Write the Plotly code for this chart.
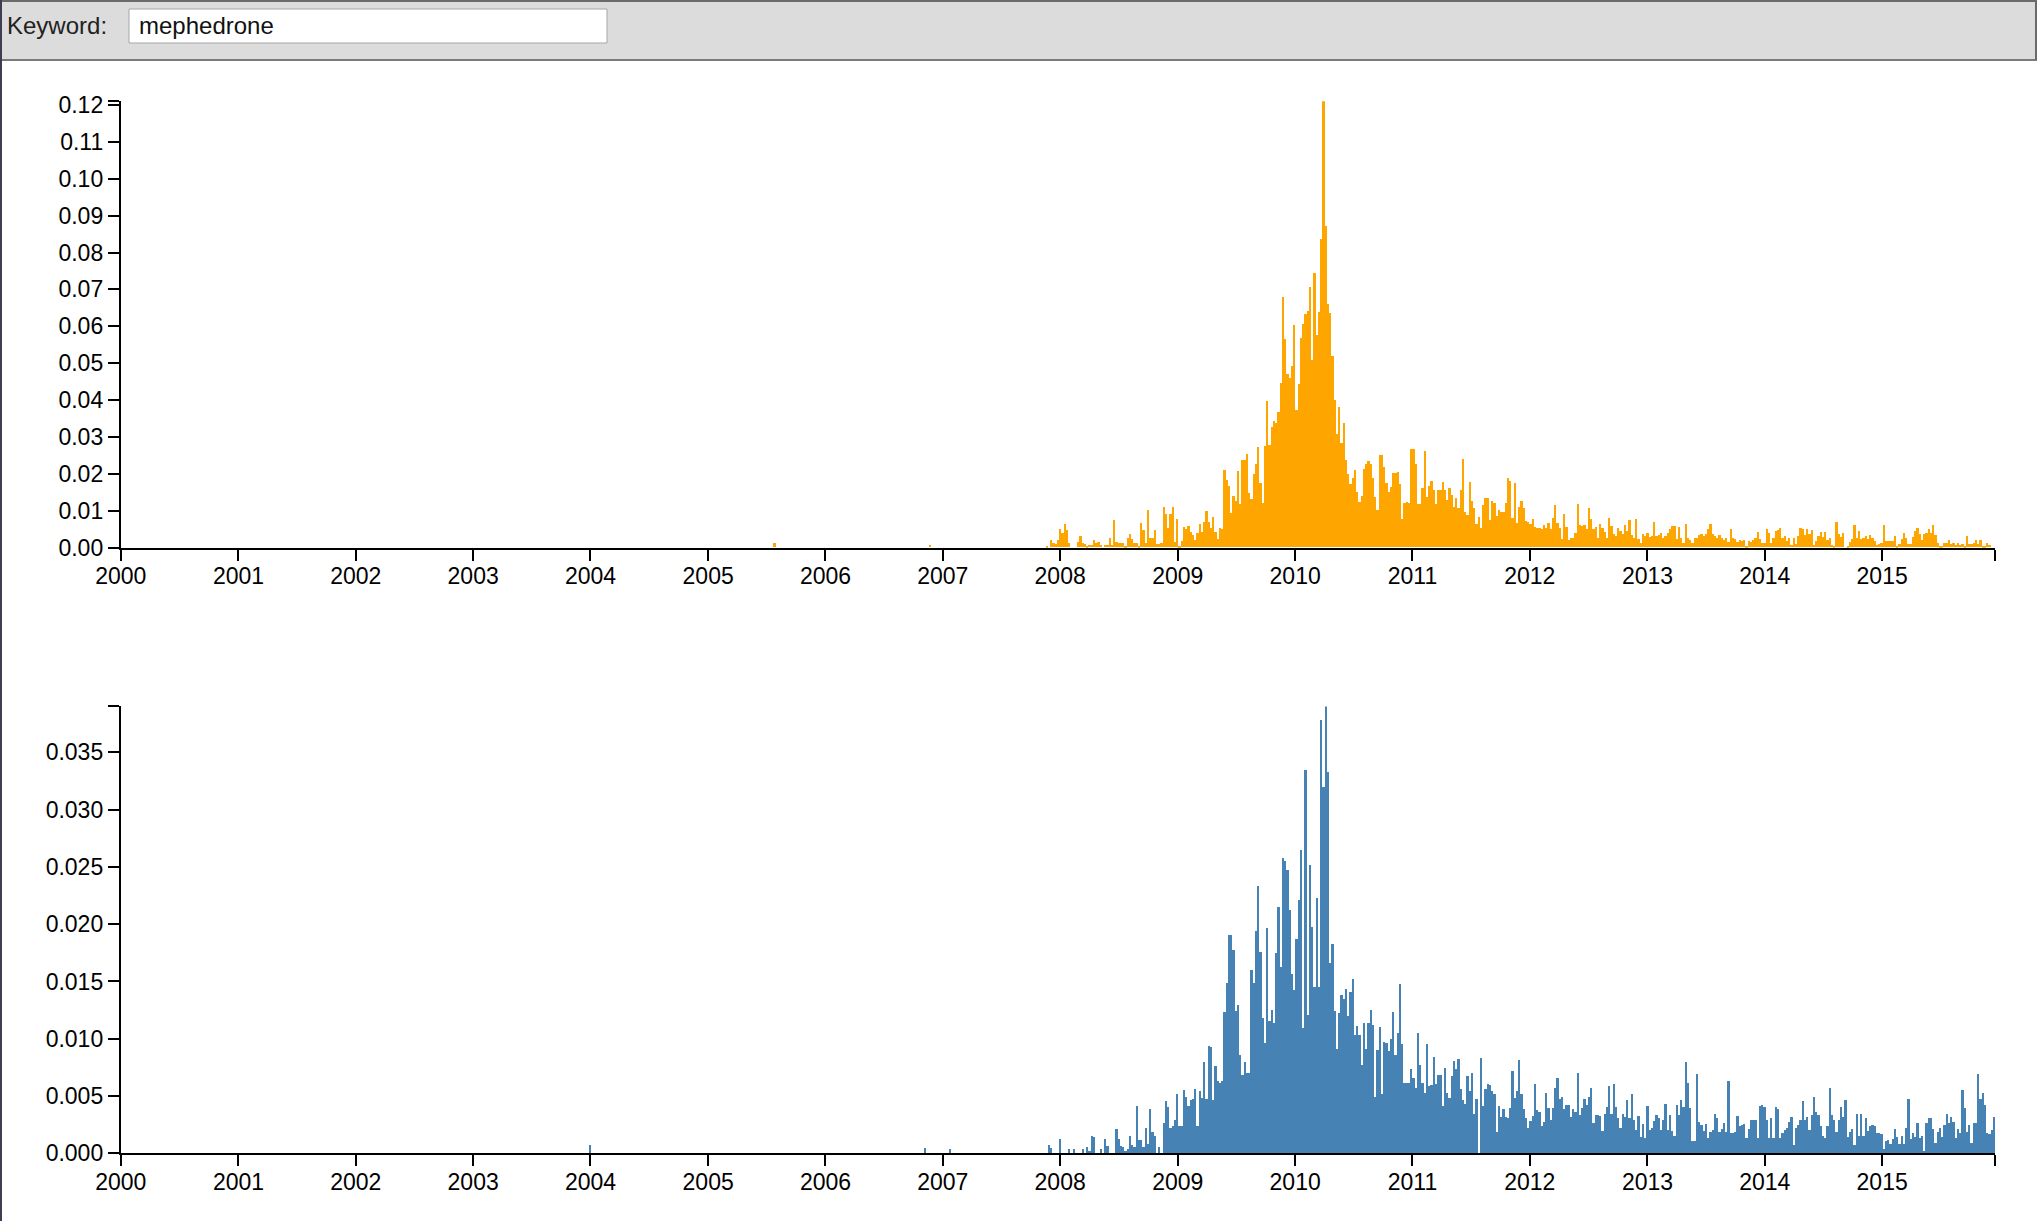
import pandas as pd
import plotly.graph_objects as go

# ---------------- data ----------------
KEYWORD = "mephedrone"
WEEK_START = "2007-11-09"   # first weekly bin of the series below

# top series (orange), weekly values
top_values = [
    0, .0005, 0, .0019, .0012, .0009, .002,
    .005, .004, .0063, .0048, .0012, 0, 0, 0, .0016, .0032,
    .0013, .0009, .0003, .0006, .0006, .002, .0012, .0015, .0006, 0,
    .0008, .0008, .0027, .0007, .0075, .0016, .0012, .0012, .0012, .0003,
    .0027, .0037, .0022, .0012, .0012, .0003, .0066, .0048, .0012, .0102,
    .0025, .0025, .0048, .0009, .001, .0012, .0109, .0091, .0054, .0091,
    .011, .0016, .0076, .0003, .0018, .0055, .005, .0058, .0043, .0034,
    .002, .0039, .0063, .0043, .007, .01, .0068, .0052, .0082, .0042,
    .0024, .0052, .005, .021, .0182, .0166, .0094, .0139, .0127, .0207,
    .0118, .0236, .0236, .0253, .0147, .0132, .02, .0226, .0271, .0175,
    .012, .0274, .0396, .0277, .0326, .0343, .0337, .0366, .0447, .068,
    .0564, .0469, .0459, .0493, .0603, .0373, .0443, .0567, .0607, .0632,
    .0641, .0706, .0508, .0743, .0576, .0639, .0837, .121, .0872, .0659,
    .0636, .0518, .0401, .0308, .038, .0283, .0337, .0236, .0199, .0171,
    .0189, .0211, .015, .0122, .0139, .0214, .0225, .0234, .0226, .0187,
    .0138, .0102, .025, .0252, .0218, .0175, .0151, .0163, .0202, .0202,
    .0205, .0172, .0077, .012, .0123, .0121, .0268, .0267, .0226, .0118,
    .0118, .016, .0261, .0136, .0166, .0181, .0157, .0118, .0157, .0156,
    .0178, .0155, .013, .0162, .0142, .011, .0135, .0108, .0156, .0241,
    .0096, .0087, .0177, .0126, .0108, .0063, .0083, .0052, .0115, .0133,
    .0133, .0074, .0126, .0121, .0086, .0102, .0097, .0097, .0121, .0189,
    .018, .0079, .0174, .0066, .011, .0126, .0108, .0072, .007, .0063,
    .0076, .0056, .0054, .0054, .0049, .006, .0054, .0067, .0049, .0081,
    .0114, .0067, .0054, .0024, .009, .0056, .002, .0027, .0027, .004,
    .0117,
    .0061, .0058, .0062, .0049, .0106, .0076, .0051, .0056, .0027, .0063,
    .0054, .0041, .0027, .0081, .0058, .0036, .0031, .0054, .0044, .0036,
    .0061, .0045, .0074, .0033, .0027, .0076, .0022, .0013, .0036, .0031,
    .004, .0028, .0031, .007, .0031, .0035,
    .004, .0025, .0031, .004, .0049, .0058, .0058, .0022, .0056, .0027,
    .0013, .0063, .0025, .0019, .0013, .0027, .0027, .0034, .0036, .0031,
    .0036, .0049, .0063, .0036, .003, .0027, .0034, .0025, .002, .0027,
    .0016, .0049, .0025, .0022, .0015, .002, .0018, .002, .0004, .0018,
    .0016, .002, .0027, .0043, .0024, .0011, .0013, .0051, .004, .0013,
    .0025, .0045, .0047, .0052, .0026, .0031, .0018, .0027, .0007, .0027,
    .0009, .0031, .0054, .0049, .0035, .0049, .0036, .0048, .0007, .0018,
    .0031, .0042, .0029, .0043, .0021, .0027, .0007, .0002, .0069, .0036,
    .0029, .004, 0, .0004, .0016, .0022, .0061, .0027, .0045, .0022,
    .0027, .0031, .0024, .0034, .0025, .0018, .0007, .0009, .0012, .006,
    .0018, .0018, .0018, .0018, .0031, .0004, .0009, .0022, .0038, .0027,
    .0009, .0009, .0029, .0045, .0054, .0036, .002, .0036, .004, .0049,
    .004, .0061, .0034, .0013, .0004, .0002, .0011, .0012, .002, .0009,
    .0011, .0007, .0013, .0006, .0009, .0002, .0031, .0009, .0009, .0011,
    .0021, .0009, .002, .0004, .0003, .0012, .0008,
]

# bottom series (steelblue), weekly values
bottom_values = [
    0, 0, .0007, .0004, 0, 0, 0,
    .0012, 0, 0, 0, .0003, 0, .0003, 0, 0, 0,
    .0003, 0, .0005, .0001, .0015, .0014, 0, 0, .0003, 0,
    .0012, .0006, 0, 0, 0, .0021, .0012, .0006, .0005, .0001,
    .0003, .0015, .0007, .0005, .0041, .0011, .0011, .0005, .0022, .0008,
    .0038, .0018, .0015, 0, .0005, 0, .0026, .0045, .004, .0022,
    .0023, .0029, .0051, .0023, .0023, .0055, .0049, .0041, .0046, .0047,
    .0056, .0023, .0054, .0048, .0079, .0047, .0093, .0092, .0046, .0076,
    .0063, .0061, .0063, .0123, .0148, .019, .019, .0177, .0124, .0129,
    .0085, .0068, .0079, .007, .007, .016, .0148, .0194, .0233, .0175,
    .0118, .0096, .0196, .0115, .0125, .0113, .0174, .0215, .0162, .0257,
    .0255, .0247, .0212, .0156, .0142, .0187, .0221, .0264, .0109, .0334,
    .012, .0251, .0197, .0145, .0222, .0145, .0378, .0319, .039, .0332,
    .0166, .0182, .0124, .0091, .0122, .0138, .0134, .0143, .0119, .014,
    .0152, .0103, .0111, .0103, .0077, .0113, .0091, .0113, .0125, .0112,
    .0049, .009, .011, .0051, .0097, .0096, .0089, .0099, .0123, .0085,
    .0105, .0147, .0095, .0061, .0061, .0061, .0073, .0065, .0057, .0105,
    .0077, .0061, .0052, .0095, .0058, .0059, .0084, .006, .0068, .0068,
    .0041,
    .0074, .0052, .0048, .0067, .008, .0073, .0082, .0056, .0046, .0043,
    .0067, .0054, .007, .0034, .0047, 0, .0083, .0041, .0056, .006,
    .0059, .0054, .0051, .0018, .0041, .0031, .0038, .0031, .003, .0039,
    .0071, .0048, .0054, .0081, .0051, .0038, .003, .0022, .0028, .0032,
    .006, .0037, .0036, .0023, .0027, .0052, .0039, .0029, .0039, .0057,
    .0065, .0047, .0049, .0038, .0042, .0042, .0031, .0038, .0036, .007,
    .0033, .0039,
    .0047, .0042, .0049, .0057, .0026, .0033, .0033, .0032, .0019, .0034,
    .004, .0058, .0034, .006, .004, .003, .0022, .0034, .0031, .0046,
    .003, .0051, .0029, .002, .0032, .0014, .0025, .0013, .0041, .002,
    .0022, .0028, .0033, .003, .002, .0029, .0043, .002, .0033, .0019,
    .0015, .0042, .0033, .0046, .004, .0079, .0061, .0039, .001, .001,
    .0069, .0027, .0024, .0019, .0025, .0013, .0018, .002, .0034, .003,
    .0018, .0021, .0026, .0018, .0063, .0017, .0017, .0018, .0032, .0023,
    .0024, .0025, .0013, .0021, .0029, .0029, .0029, .0013, .0041, .0042,
    .004, .0029, .0013, .003, .0013, .004, .0038, .0013, .0017, .002,
    .0022, .0027, .0031, .0007, .0022, .0024, .0029, .0045, .0029, .0031,
    .002, .0033, .0049, .0036, .0033, .0023, .0015, .0013, .0023, .0057,
    .0033, .0029, .0018, .0029, .004, .0031, .0046, .0014, .0018, .0021,
    .0007, .0034, .0015, .0034, .0015, .003, .0019, .0023, .0024, .0023,
    .0017, .0017, .0016, .0003, .001, .0011, .0008, .0012, .0021, .0014,
    .0008, .0015, .0008, .0022, .0047, .0012, .0017, .0014, .0026, .0013,
    .0015, .0002, .0026, .003, .003, .0021, .0009, .0018, .0022, .0014,
    .0024, .0034, .0026, .0031, .0027, .0013, .0021, .0017, .0055, .0039,
    .0018, .0024, .0009, .0026, .0026, .0069, .0047, .0052, .0042, .0017,
    .0016, .002, .0031,
]

# isolated early weeks
top_early_dates = ["2005-07-22", "2006-11-17"]
top_early_values = [0.0011, 0.0008]
bottom_early_dates = ["2003-12-26", "2006-11-03", "2007-01-19"]
bottom_early_values = [0.0007, 0.0004, 0.0003]

year_ticks = [str(y) for y in range(2000, 2016)]
x_start, x_end = "2000-01-01", "2015-12-19"
top_yticks = [0.00, 0.01, 0.02, 0.03, 0.04, 0.05, 0.06, 0.07, 0.08, 0.09, 0.10, 0.11, 0.12]
bottom_yticks = [0.000, 0.005, 0.010, 0.015, 0.020, 0.025, 0.030, 0.035]

# ---------------- figure ----------------
W, H = 2037, 1221
WEEK_MS = 7 * 24 * 3600 * 1000
ORANGE = "#FFA500"
BLUE = "#4682B4"
FONT = "Liberation Sans, Arial, Helvetica, sans-serif"

top_dates = pd.date_range(WEEK_START, periods=len(top_values), freq="7D")
bottom_dates = pd.date_range(WEEK_START, periods=len(bottom_values), freq="7D")

fig = go.Figure()


def add_bars(x, y, color, xa, ya):
    fig.add_trace(go.Bar(
        x=list(x), y=y, width=WEEK_MS, offset=0,
        marker=dict(color=color, line=dict(width=0)),
        xaxis=xa, yaxis=ya, hoverinfo="x+y"))


add_bars(pd.to_datetime(top_early_dates), top_early_values, ORANGE, "x", "y")
add_bars(top_dates, top_values, ORANGE, "x", "y")
add_bars(pd.to_datetime(bottom_early_dates), bottom_early_values, BLUE, "x2", "y2")
add_bars(bottom_dates, bottom_values, BLUE, "x2", "y2")


def py(px):
    return 1 - px / H


x_dom = [120.8 / W, 1995.3 / W]
top_max = max(top_values)
bot_max = max(bottom_values)

xtickvals = [f"{y}-01-01" for y in year_ticks] + [x_end]
xticktext = year_ticks + [""]

TICKFONT = dict(family=FONT, size=23, color="black")

common_x = dict(
    type="date", range=[x_start, x_end], domain=x_dom,
    tickmode="array", tickvals=xtickvals, ticktext=xticktext,
    ticks="outside", ticklen=11, tickwidth=1.5, tickcolor="black",
    showline=True, linewidth=2, linecolor="black",
    showgrid=False, zeroline=False, automargin=False,
    tickfont=TICKFONT, ticklabelstandoff=-4,
)
common_y = dict(
    ticks="outside", ticklen=11, tickwidth=1.5, tickcolor="black",
    showline=True, linewidth=2, linecolor="black",
    showgrid=False, zeroline=False, automargin=False,
    tickfont=TICKFONT,
    tickmode="array",
)

fig.update_layout(
    width=W, height=H, autosize=False,
    margin=dict(l=0, r=0, t=0, b=0, pad=0),
    paper_bgcolor="white", plot_bgcolor="white",
    showlegend=False, bargap=0, barmode="overlay",
    xaxis=dict(anchor="y", **common_x),
    xaxis2=dict(anchor="y2", **common_x),
    yaxis=dict(anchor="x", domain=[py(547.7), py(547.7 - top_max * 3690)],
               range=[0, top_max],
               tickvals=top_yticks + [top_max],
               ticktext=[f"{v:.2f}" for v in top_yticks] + [""],
               **common_y),
    yaxis2=dict(anchor="x2", domain=[py(1153.3), py(1153.3 - bot_max * 11457)],
                range=[0, bot_max],
                tickvals=bottom_yticks + [bot_max],
                ticktext=[f"{v:.3f}" for v in bottom_yticks] + [""],
                **common_y),
)

shapes = [
    dict(type="rect", xref="paper", yref="paper", x0=0, x1=1, y0=py(60), y1=1,
         fillcolor="#dcdcdc", line=dict(width=0), layer="below"),
    dict(type="line", xref="paper", yref="paper", x0=0, x1=1, y0=py(60), y1=py(60),
         line=dict(color="#7a7a7a", width=2)),
    dict(type="line", xref="paper", yref="paper", x0=0, x1=1, y0=py(1), y1=py(1),
         line=dict(color="#6a6a6a", width=2)),
    dict(type="rect", xref="paper", yref="paper", x0=129 / W, x1=607 / W, y0=py(43), y1=py(9),
         fillcolor="white", line=dict(color="#a6a6a6", width=1)),
    dict(type="line", xref="paper", yref="paper", x0=1 / W, x1=1 / W, y0=0, y1=1,
         line=dict(color="#3f3d52", width=2)),
    dict(type="line", xref="paper", yref="paper", x0=(W - 1) / W, x1=(W - 1) / W, y0=py(60), y1=1,
         line=dict(color="#6a6a6a", width=2)),
]
fig.update_layout(shapes=shapes)

fig.add_annotation(x=5 / W, y=py(26), xref="paper", yref="paper", text="Keyword:",
                   showarrow=False, xanchor="left", yanchor="middle",
                   font=dict(family=FONT, size=24, color="#222222"))
fig.add_annotation(x=137 / W, y=py(26), xref="paper", yref="paper", text=KEYWORD,
                   showarrow=False, xanchor="left", yanchor="middle",
                   font=dict(family=FONT, size=24, color="#111111"))

fig.write_html("out.html", config={"displayModeBar": False},
               post_script="document.body.style.margin='0';document.body.style.overflow='hidden';")
